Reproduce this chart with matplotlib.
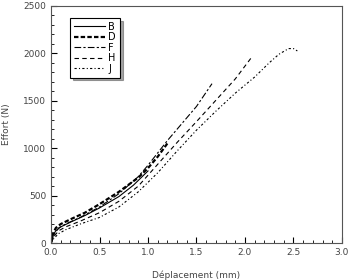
import numpy as np
import matplotlib.pyplot as plt
from matplotlib.ticker import MultipleLocator

# courbes effort / deplacement
xB = [0, 0.02, 0.05, 0.1, 0.2, 0.35, 0.5, 0.7, 0.85, 1.0]
yB = [0, 80, 130, 170, 220, 290, 370, 490, 610, 760]
xD = [0, 0.02, 0.05, 0.1, 0.2, 0.35, 0.5, 0.7, 0.9, 1.0, 1.1, 1.2]
yD = [0, 100, 160, 200, 250, 320, 410, 540, 690, 790, 910, 1050]
xF = [0, 0.03, 0.08, 0.15, 0.3, 0.5, 0.7, 0.9, 1.0, 1.1, 1.2, 1.3, 1.5, 1.66]
yF = [0, 90, 160, 200, 270, 380, 520, 700, 820, 950, 1080, 1200, 1440, 1680]
xH = [0, 0.03, 0.08, 0.15, 0.3, 0.5, 0.7, 0.9, 1.1, 1.3, 1.5, 1.7, 1.9, 2.07]
yH = [0, 70, 130, 170, 230, 320, 440, 600, 830, 1060, 1280, 1505, 1730, 1960]
xJ = [0, 0.03, 0.08, 0.15, 0.3, 0.5, 0.7, 0.9, 1.1, 1.3, 1.5, 1.7, 1.9, 2.1, 2.25, 2.35, 2.45, 2.5, 2.54]
yJ = [0, 50, 100, 140, 200, 270, 380, 540, 740, 970, 1190, 1390, 1580, 1750, 1900, 1990, 2050, 2050, 2025]

fig = plt.figure(figsize=(3.48, 2.80), dpi=100)
ax = fig.add_axes([0.1466, 0.132, 0.836, 0.847])

ax.plot(xB, yB, color='black', lw=0.8, ls='-', label='B')
ax.plot(xD, yD, color='black', lw=1.6, ls=(0, (2, 1)), label='D')
ax.plot(xF, yF, color='black', lw=0.8, ls=(0, (6, 2, 2, 2)), label='F')
ax.plot(xH, yH, color='black', lw=0.8, ls=(0, (4, 3)), label='H')
ax.plot(xJ, yJ, color='black', lw=0.8, ls=(0, (2, 2, 1, 2)), label='J')

ax.set_xlim(0, 3)
ax.set_ylim(0, 2500)
ax.xaxis.set_major_locator(MultipleLocator(0.5))
ax.xaxis.set_minor_locator(MultipleLocator(0.1))
ax.yaxis.set_major_locator(MultipleLocator(500))
ax.yaxis.set_minor_locator(MultipleLocator(100))
ax.tick_params(which='both', direction='in', labelsize=6.5, labelcolor='#444444')
ax.tick_params(which='major', length=4)
ax.tick_params(which='minor', length=2)
for s in ax.spines.values():
    s.set_color('#555555')

ax.set_xlabel('Déplacement (mm)', fontsize=6.5, color='#444444', labelpad=10)
ax.set_ylabel('Effort (N)', fontsize=6.5, color='#444444', labelpad=9)

leg = ax.legend(loc='upper left', bbox_to_anchor=(0.05, 0.97), fontsize=7, frameon=True,
                fancybox=False, shadow=True, handlelength=3.2, handletextpad=0.3,
                labelspacing=0.05, borderpad=0.4)
leg.get_frame().set_edgecolor('black')
leg.get_frame().set_linewidth(0.8)

plt.savefig('out.png', dpi=100)
